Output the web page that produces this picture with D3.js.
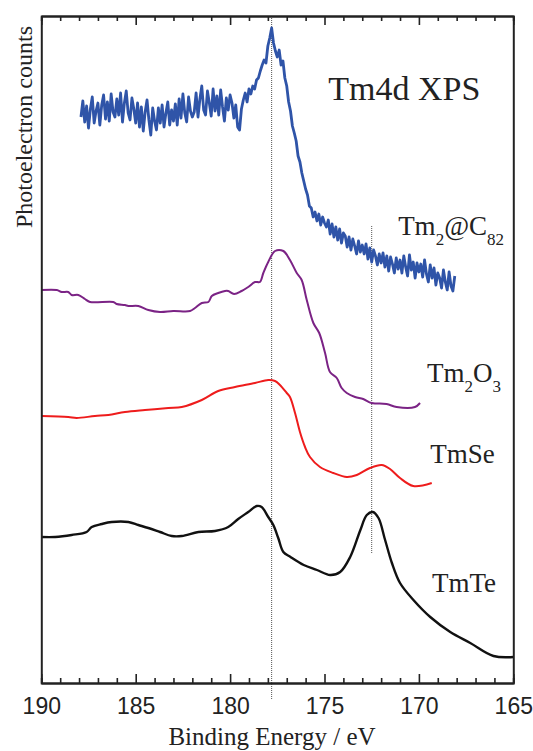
<!DOCTYPE html>
<html><head><meta charset="utf-8">
<script src="https://cdn.jsdelivr.net/npm/d3@7"></script>
<style>body{margin:0;background:#fff}</style>
</head><body>
<svg id="c" width="533" height="751"></svg>
<script>
// ---- data (binding energy in eV, intensity in arbitrary offset units) ----
const xTicksMajor = [190, 185, 180, 175, 170, 165];
const xTicksMinor = [189,188,187,186,184,183,182,181,179,178,177,176,174,173,172,171,169,168,167,166];

// Tm2@C82 : uniformly sampled, start energy and step of the measurement grid
const c82Start = 187.9, c82Step = 0.1;
const c82Counts = [
 566,582,561,577,555,574,586,560,572,580,
 558,578,588,564,581,562,589,571,566,584,
 568,590,561,580,592,570,563,585,574,560,
 580,556,576,552,571,583,563,548,575,562,
 553,575,560,578,556,570,581,558,573,562,
 579,558,584,565,589,570,561,586,572,566,
 571,590,566,584,597,573,568,592,580,567,
 594,572,587,568,593,576,562,585,573,588,
 580,565,578,556,553,574,583,590,581,594,
 589,597,594,603,605,612,618,623,620,637,
 645,655,640,632,626,633,618,622,605,597,
 581,572,557,550,542,527,521,510,502,494,
 488,477,475,466,471,462,469,458,466,460,
 456,463,449,459,446,456,443,454,440,450,
 447,436,446,433,444,437,429,442,431,438,
 429,439,424,435,421,433,427,418,429,420,
 430,416,427,412,426,419,410,425,414,423,
 410,427,416,407,428,413,421,405,420,411,
 419,406,423,409,401,418,405,415,398,410,
 405,395,413,401,393,411,397,392,407
];

const tm2o3E = [190,189.18,188.92,188.57,188.39,188.04,187.69,187.42,186.19,186.01,185.57,185.39,184.86,184.33,183.71,183.01,182.12,181.86,181.5,181.15,180.97,180.63,180.27,180.1,179.79,179.39,179.04,178.68,178.42,178.24,177.98,177.62,177.18,176.83,176.47,176.21,175.94,175.59,175.28,174.97,174.71,174.35,174.09,173.82,173.38,172.95,172.5,171.71,171.18,170.21,169.94];
const tm2o3Counts = [393,393,391,391,388,388,384,381,381,379,378,377,377,373,371,372,372,375,380,381,387,390,392,392,389,392,396,401,401,410,421,432,432,423,410,403,383,360,350,330,311,305,295,290,286,284,280,279,276,276,280];

const tmseE = [190,188.57,188.13,187.16,186.45,185.57,184.51,183.27,182.56,181.5,180.63,179.74,178.68,177.98,177.62,177.36,177,176.83,176.56,176.3,176.03,175.77,175.24,174.53,173.82,173.29,172.59,171.97,171.53,171,170.3,169.32];
const tmseCounts = [267,266,265,267,268,271,273,275,276,283,292,296,300,303,302,298,290,286,270,251,236,226,216,210,206,208,215,218,214,205,197,200];

const tmteE = [190,189.27,188.39,187.6,187.33,186.8,186.27,185.39,184.86,184.33,183.71,183.09,182.56,181.68,180.8,180.1,179.57,179.04,178.59,178.33,177.98,177.71,177.45,177.18,176.8,176.1,175.4,174.7,174.17,173.64,173.1,172.76,172.44,172.14,171.79,171.43,171,170.29,169.4,168.34,167.28,166.05,165];
const tmteCounts = [146,146,148,151,156,159,161,161,158,155,151,147,147,151,152,156,164,171,177,176,166,158,145,131,126,118,113,108,111,126,153,168,171,165,143,120,100,83,66,51,40,27,26];

// reference lines (eV) and their vertical extents (intensity units)
const refLineE = [177.8, 172.5];
const refLineTop = [667, 457];
const refLineBottom = [-17, 129];

// ---- layout ----
const W = 533, H = 751;
const m = {left: 41.3, right: 19.7, top: 16, bottom: 68};
const svg = d3.select("#c");
const x = d3.scaleLinear().domain([190, 165]).range([m.left, W - m.right]);
const y = d3.scaleLinear().domain([0, 667]).range([H - m.bottom, m.top]);

const lineRaw = d3.line().x(d => x(d[0])).y(d => y(d[1]));
const lineSmooth = d3.line().x(d => x(d[0])).y(d => y(d[1])).curve(d3.curveCatmullRom.alpha(0.5));
const zip = (a, b) => a.map((v, i) => [v, b[i]]);
const c82 = c82Counts.map((v, i) => [c82Start - i * c82Step, v]);

// reference dotted lines
svg.append("g").selectAll("line").data(refLineE).join("line")
  .attr("x1", d => x(d)).attr("x2", d => x(d))
  .attr("y1", (d, i) => y(refLineTop[i])).attr("y2", (d, i) => y(refLineBottom[i]))
  .attr("stroke", "#555").attr("stroke-width", 1).attr("stroke-dasharray", "1,1");

// curves
const series = [
  {data: c82, color: "#2f54a8", w: 2.8, gen: lineRaw},
  {data: zip(tm2o3E, tm2o3Counts), color: "#7b2385", w: 2, gen: lineSmooth},
  {data: zip(tmseE, tmseCounts), color: "#ee1c1c", w: 2, gen: lineSmooth},
  {data: zip(tmteE, tmteCounts), color: "#111", w: 2.4, gen: lineSmooth}
];
svg.append("g").selectAll("path").data(series).join("path")
  .attr("d", d => d.gen(d.data)).attr("fill", "none")
  .attr("stroke", d => d.color).attr("stroke-width", d => d.w)
  .attr("stroke-linejoin", "round");

// axes
const axisColor = "#222";
const gB = svg.append("g").attr("transform", `translate(0,${H - m.bottom})`);
gB.call(d3.axisBottom(x).tickValues(xTicksMajor).tickSize(-9).tickSizeOuter(0).tickPadding(14.5).tickFormat(d3.format("d")));
gB.append("g").call(d3.axisBottom(x).tickValues(xTicksMinor).tickSize(-5).tickFormat(""));
const gT = svg.append("g").attr("transform", `translate(0,${m.top})`);
gT.call(d3.axisTop(x).tickValues(xTicksMajor).tickSize(-9).tickSizeOuter(0).tickFormat(""));
gT.append("g").call(d3.axisTop(x).tickValues(xTicksMinor).tickSize(-5).tickFormat(""));
svg.append("g").attr("transform", `translate(${m.left},0)`).call(d3.axisLeft(y).tickValues([]).tickSizeOuter(0));
svg.append("g").attr("transform", `translate(${W - m.right},0)`).call(d3.axisRight(y).tickValues([]).tickSizeOuter(0));
svg.selectAll(".domain").attr("stroke", axisColor).attr("stroke-width", 2);
svg.selectAll(".tick line").attr("stroke", axisColor).attr("stroke-width", 1.6);
svg.selectAll(".tick text").attr("font-family", "'Liberation Sans', Arial, sans-serif")
  .attr("font-size", 23).attr("fill", "#222");

// axis titles
const serif = "'Liberation Serif', 'Times New Roman', serif";
svg.append("text").attr("x", 272).attr("y", 745).attr("text-anchor", "middle")
  .attr("font-family", serif).attr("font-size", 25).attr("fill", "#222").text("Binding Energy / eV");
svg.append("text").attr("transform", "translate(32,127) rotate(-90)").attr("text-anchor", "middle")
  .attr("font-family", serif).attr("font-size", 24).attr("fill", "#222").text("Photoelectron counts");

// labels
svg.append("text").attr("x", x(174.8)).attr("y", y(583)).attr("font-family", serif)
  .attr("font-size", 34).attr("fill", "#222").text("Tm4d XPS");

const labels = [
  {e: 171.1, v: 448, parts: [["Tm",0],["2",1],["@C",0],["82",1]]},
  {e: 169.57, v: 301, parts: [["Tm",0],["2",1],["O",0],["3",1]]},
  {e: 169.4, v: 220, parts: [["TmSe",0]]},
  {e: 169.31, v: 91, parts: [["TmTe",0]]}
];
labels.forEach(l => {
  const t = svg.append("text").attr("x", x(l.e)).attr("y", y(l.v))
    .attr("font-family", serif).attr("font-size", 27).attr("fill", "#222");
  let prev = 0;
  l.parts.forEach(p => {
    const off = p[1] ? 10 : 0;
    t.append("tspan").attr("dy", off - prev).attr("font-size", p[1] ? 17 : 27).text(p[0]);
    prev = off;
  });
});
</script>
</body></html>
